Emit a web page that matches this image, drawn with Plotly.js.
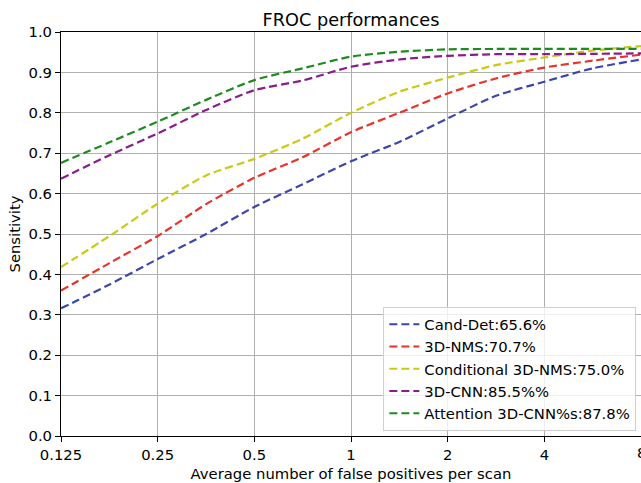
<!DOCTYPE html>
<html>
<head>
<meta charset="utf-8">
<script src="https://cdn.plot.ly/plotly-3.0.1.min.js"></script>
<style>html,body{margin:0;padding:0;background:#fff;}#chart{width:641px;height:483px;}</style>
</head>
<body>
<div id="chart"></div>
<script>
const fpps = [0.125, 0.177, 0.25, 0.354, 0.5, 0.707, 1, 1.414, 2, 2.828, 4, 5.657, 8];
const candDet   = [0.316, 0.375, 0.438, 0.500, 0.567, 0.623, 0.680, 0.728, 0.786, 0.842, 0.877, 0.910, 0.932];
const nms3d     = [0.360, 0.428, 0.495, 0.574, 0.639, 0.690, 0.752, 0.800, 0.848, 0.885, 0.912, 0.929, 0.944];
const condNms   = [0.418, 0.495, 0.575, 0.645, 0.686, 0.736, 0.800, 0.852, 0.887, 0.918, 0.937, 0.954, 0.965];
const cnn3d     = [0.637, 0.695, 0.749, 0.807, 0.856, 0.880, 0.914, 0.932, 0.941, 0.945, 0.945, 0.946, 0.947];
const attCnn    = [0.676, 0.727, 0.778, 0.832, 0.881, 0.910, 0.939, 0.951, 0.957, 0.958, 0.958, 0.958, 0.958];
const names = ["Cand-Det:65.6%", "3D-NMS:70.7%", "Conditional 3D-NMS:75.0%", "3D-CNN:85.5%%", "Attention 3D-CNN%s:87.8%"];
const colors = ["#3b47ad", "#e8322a", "#c9c916", "#8c1c8c", "#1f8a1f"];
const xTickVals = [0.125, 0.25, 0.5, 1, 2, 4, 8];
const xTickText = ["0.125", "0.25", "0.5", "1", "2", "4", "8"];
const yTickVals = [0, 0.1, 0.2, 0.3, 0.4, 0.5, 0.6, 0.7, 0.8, 0.9, 1.0];

const series = [candDet, nms3d, condNms, cnn3d, attCnn];
const traces = series.map((ys, i) => ({
  x: fpps, y: ys, name: names[i], type: 'scatter', mode: 'lines',
  line: {color: colors[i], width: 2.2, dash: '8px,4px', shape: 'spline', smoothing: 0.7},
  cliponaxis: true
}));

const font = "DejaVu Sans, sans-serif";
const fs = 14.8;
const layout = {
  width: 641, height: 483,
  margin: {l: 61, r: 0, t: 32, b: 47, pad: 0},
  paper_bgcolor: '#fff', plot_bgcolor: '#fff',
  font: {family: font, size: fs, color: '#000'},
  title: {text: 'FROC performances', font: {family: font, size: 17.7, color: '#000'}, x: 0.5, xanchor: 'center', xref: 'paper', y: 1, yref: 'paper', yanchor: 'bottom', pad: {b: 6}},
  xaxis: {
    type: 'log', range: [Math.log10(0.125), Math.log10(8)],
    tickvals: xTickVals, ticktext: xTickText,
    ticks: 'outside', ticklen: 5, tickcolor: '#000', tickwidth: 1,
    showgrid: true, gridcolor: '#b0b0b0', gridwidth: 1,
    showline: true, linecolor: '#000', linewidth: 1, mirror: true,
    zeroline: false,
    tickfont: {family: font, size: fs, color: '#000'},
    title: {text: 'Average number of false positives per scan', font: {family: font, size: fs, color: '#000'}, standoff: 6}
  },
  yaxis: {
    range: [0, 1], tickvals: yTickVals, tickformat: '.1f',
    ticks: 'outside', ticklen: 5, tickcolor: '#000', tickwidth: 1,
    showgrid: true, gridcolor: '#b0b0b0', gridwidth: 1,
    showline: true, linecolor: '#000', linewidth: 1, mirror: true,
    zeroline: false,
    tickfont: {family: font, size: fs, color: '#000'},
    title: {text: 'Sensitivity', font: {family: font, size: fs, color: '#000'}, standoff: 4}
  },
  annotations: [{
    text: xTickText[xTickText.length - 1], xref: 'x', yref: 'paper',
    x: Math.log10(xTickVals[xTickVals.length - 1]), y: 0,
    xanchor: 'center', yanchor: 'top', yshift: -6, showarrow: false,
    font: {family: font, size: fs, color: '#000'}
  }],
  legend: {
    x: 0.992, y: 0.012, xanchor: 'right', yanchor: 'bottom',
    bgcolor: 'rgba(255,255,255,0.8)', bordercolor: '#d0d0d0', borderwidth: 1,
    font: {family: font, size: fs, color: '#000'}
  },
  showlegend: true
};
Plotly.newPlot('chart', traces, layout, {staticPlot: true, displayModeBar: false});
</script>
</body>
</html>
